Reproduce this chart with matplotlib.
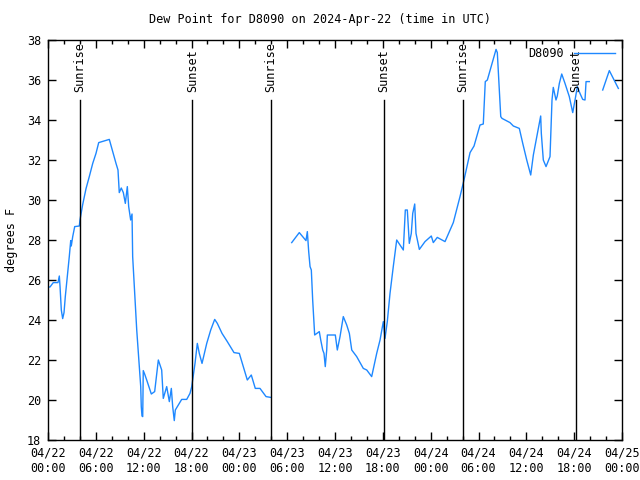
"""Dew point chart for station D8090, 2024-Apr-22 (UTC), gnuplot look."""

import numpy as np
import matplotlib
matplotlib.use('Agg')
import matplotlib.pyplot as plt
import matplotlib.dates as mdates
from datetime import datetime, timedelta

#%% Data (hours after 04/22 00:00 UTC, dew point in F; nan = gap)

station = 'D8090'
title = 'Dew Point for D8090 on 2024-Apr-22 (time in UTC)'

hours = [
    0.00, 0.25, 0.66, 1.25, 1.42, 1.51, 1.67, 1.84, 2.01, 2.17, 2.42, 2.67, 2.85, 2.92,
    3.10, 3.35, 3.93, 4.01, 4.35, 4.77, 5.18, 5.61, 6.02, 6.36, 6.86, 7.69, 7.94, 8.53,
    8.78, 8.94, 9.19, 9.45, 9.70, 9.95, 10.12, 10.37, 10.54, 10.62, 10.88, 11.13, 11.45,
    11.63, 11.70, 11.79, 11.88, 11.95, 12.12, 12.38, 12.96, 13.38, 13.84, 14.26, 14.46,
    14.89, 15.22, 15.47, 15.64, 15.84, 15.97, 16.34, 16.77, 17.40, 17.81, 18.03, 18.15,
    18.44, 18.73, 18.98, 19.32, 19.91, 20.41, 20.91, 21.24, 21.83, 22.49, 23.33, 24.00,
    24.50, 25.00, 25.50, 26.00, 26.59, 27.35, 27.94,
    29.00,
    30.57, 31.52, 32.36, 32.53, 32.70, 32.87, 33.03, 33.20, 33.45, 34.03, 34.21, 34.46,
    34.62, 34.78, 34.96, 35.04, 36.04, 36.29, 36.63, 37.04, 37.47, 37.80, 38.10, 38.72,
    39.55, 39.98, 40.60, 41.23, 41.65, 42.06, 42.27, 42.56, 42.81, 42.90, 43.31, 43.74,
    44.57, 44.82, 45.07, 45.32, 45.57, 45.75, 46.00, 46.16, 46.58, 47.29, 48.08, 48.33,
    48.83, 49.80, 50.84, 51.68, 52.18, 52.94, 53.44, 54.19, 54.60, 54.85, 55.11, 56.20,
    56.36, 56.79, 56.95, 57.95, 58.37, 59.12, 59.55, 60.05, 60.55, 60.88, 61.51, 61.80,
    61.88, 62.13, 62.47, 62.97, 63.22, 63.38, 63.72, 63.88, 64.14, 64.44, 64.85, 65.39,
    65.82, 66.11, 66.40, 66.73, 67.07, 67.36, 67.49, 67.90,
    68.80,
    69.58, 70.41, 71.54,
]

dewpoint = [
    25.65, 25.65, 25.87, 25.87, 26.20, 25.67, 24.50, 24.07, 24.37, 25.17, 26.17, 27.17, 27.97, 27.70,
    28.17, 28.67, 28.70, 29.00, 29.77, 30.57, 31.17, 31.83, 32.33, 32.87, 32.93, 33.03, 32.67, 31.83,
    31.50, 30.37, 30.60, 30.37, 29.83, 30.67, 29.67, 29.00, 29.30, 27.17, 25.33, 23.50, 21.67,
    20.67, 19.67, 19.20, 19.17, 21.47, 21.30, 21.00, 20.30, 20.42, 22.00, 21.50, 20.08,
    20.67, 19.92, 20.58, 19.67, 18.97, 19.50, 19.75, 20.03, 20.03, 20.33, 20.67, 21.00,
    21.83, 22.83, 22.33, 21.83, 22.83, 23.50, 24.03, 23.83, 23.33, 22.92, 22.37, 22.33,
    21.67, 21.00, 21.25, 20.58, 20.58, 20.17, 20.13,
    np.nan,
    27.87, 28.37, 27.97, 28.42, 27.42, 26.67, 26.50, 25.00, 23.25, 23.42, 23.00, 22.50,
    22.33, 21.67, 22.50, 23.25, 23.25, 22.50, 23.17, 24.17, 23.75, 23.33, 22.50, 22.17,
    21.58, 21.50, 21.17, 22.33, 23.00, 23.92, 23.08, 23.92, 24.92, 25.33, 26.67, 28.00,
    27.50, 29.50, 29.50, 27.83, 28.33, 29.33, 29.80, 28.33, 27.53, 27.92, 28.20, 27.87,
    28.13, 27.92, 28.87, 30.17, 31.00, 32.37, 32.70, 33.75, 33.80, 35.92, 36.00, 37.53,
    37.37, 34.17, 34.08, 33.87, 33.70, 33.58, 32.83, 32.00, 31.25, 32.25, 33.58, 34.20,
    33.33, 32.00, 31.67, 32.17, 35.00, 35.63, 35.00, 35.20, 35.83, 36.30, 35.83, 35.17,
    34.37, 35.00, 35.67, 35.33, 35.03, 35.00, 35.92, 35.92,
    np.nan,
    35.50, 36.47, 35.58,
]

# sun events (hours after 04/22 00:00 UTC)
event_hours = [4.0, 18.1, 28.0, 42.15, 52.05, 66.2]
event_names = ['Sunrise', 'Sunset', 'Sunrise', 'Sunset', 'Sunrise', 'Sunset']

#%% Plot

base = datetime(2024, 4, 22)
times = [base + timedelta(hours=h) for h in hours]

plt.rcParams['font.family'] = ['DejaVu Sans Mono']
plt.rcParams['font.size'] = 8

fig = plt.figure(figsize=(6.4, 4.8), dpi=100)
ax = fig.add_axes([48 / 640, 40 / 480, 574 / 640, 400 / 480])

ax.plot(times, dewpoint, color='#1e88ff', lw=1, label=station)

for h, name in zip(event_hours, event_names):
    t = base + timedelta(hours=h)
    ax.plot([t, t], [18, 35], color='black', lw=1)
    ax.text(t, 35.4, name, rotation=90, ha='center', va='bottom', fontsize=8.5)

ax.set_xlim(base, base + timedelta(hours=72))
ax.set_ylim(18, 38)
ax.set_yticks(np.arange(18, 39, 2))
ax.xaxis.set_major_locator(mdates.HourLocator(byhour=[0, 6, 12, 18]))
ax.xaxis.set_minor_locator(mdates.HourLocator(byhour=range(0, 24, 2)))
ax.xaxis.set_major_formatter(mdates.DateFormatter('%m/%d\n%H:%M'))

ax.tick_params(which='both', direction='in', top=True, right=True, width=1, labelsize=8.5)
ax.tick_params(which='major', length=6, pad=5)
ax.tick_params(which='minor', length=3)
for s in ax.spines.values():
    s.set_linewidth(1)

ax.set_ylabel('degrees F', fontsize=8.5, labelpad=6)
fig.text(0.5, 1 - 19 / 480, title, ha='center', va='center', fontsize=8.5)

leg = ax.legend(loc='upper right', frameon=False, fontsize=8.5, markerfirst=False,
                handlelength=3.5, borderaxespad=0.2, handletextpad=0.8)

fig.savefig('out.png', dpi=100)
